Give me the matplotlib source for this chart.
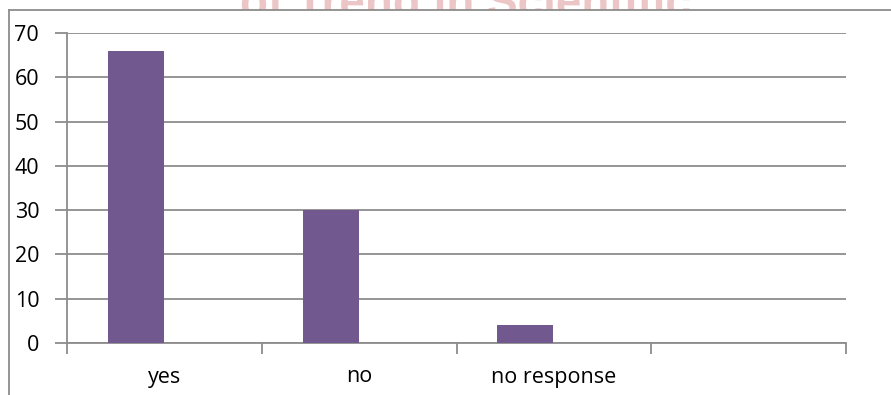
import matplotlib
matplotlib.use("Agg")
import matplotlib.pyplot as plt
from matplotlib.lines import Line2D
from matplotlib.patches import Rectangle

categories = ["yes", "no", "no response", ""]
values = [66, 30, 4, 0]
yticks = [0, 10, 20, 30, 40, 50, 60, 70]

plt.rcParams['font.family'] = ['Open Sans', 'DejaVu Sans']

W, H, DPI = 891, 395, 100
fig = plt.figure(figsize=(W / DPI, H / DPI), dpi=DPI)

# watermark from the page behind the chart (only its lower part shows)
fig.text(465 / W, 1.0 - 17 / H, "of Trend in Scientific", ha="center", va="baseline",
         fontsize=33, color="#ecc6c6", fontweight="bold",
         family=["Liberation Sans", "DejaVu Sans"], zorder=0)

# opaque chart area covering the watermark
fig.add_artist(Rectangle((9 / W, 0), 1 - 9 / W, 1 - 10 / H, transform=fig.transFigure,
                         facecolor="white", edgecolor="none", zorder=1))

# outer chart frame (left and top)
fig.add_artist(Line2D([9 / W, 9 / W], [0, 1 - 10 / H], color="#8c8c8c", lw=1.3,
                      transform=fig.transFigure, zorder=2))
fig.add_artist(Line2D([9 / W, 1], [1 - 10 / H, 1 - 10 / H], color="#8c8c8c", lw=1.3,
                      transform=fig.transFigure, zorder=2))

left, right = 67 / W, 846 / W
bottom, top = 1 - 343 / H, 1 - 33 / H
ax = fig.add_axes([left, bottom, right - left, top - bottom])
ax.set_facecolor("none")
ax.set_zorder(3)

n = len(categories)
bw = 56 / 195
pos = [i - 0.5 + 41 / 195 + bw / 2 for i in range(n)]
ax.bar(pos, values, width=bw, color="#71588f", zorder=3)

ax.set_xlim(-0.5, n - 0.5)
ax.set_ylim(0, 70)
ax.set_yticks(yticks)
ax.set_yticklabels([str(t) for t in yticks], fontsize=15.5)
ax.grid(axis="y", color="#8c8c8c", lw=1.3, zorder=0)
ax.tick_params(axis="y", length=9, width=1.3, color="#8c8c8c", pad=11)

# category boundary ticks
ax.set_xticks([i - 0.5 for i in range(n + 1)])
ax.set_xticklabels([])
ax.tick_params(axis="x", length=8, width=1.3, color="#8c8c8c")
for i, c in enumerate(categories):
    ax.text(i, -34 / 310 * 70, c, ha="center", va="center", fontsize=15.5,
            transform=ax.transData, clip_on=False)

for s in ["top", "right"]:
    ax.spines[s].set_visible(False)
for s in ["left", "bottom"]:
    ax.spines[s].set_color("#8c8c8c")
    ax.spines[s].set_linewidth(1.3)

fig.savefig("out.png", dpi=DPI)
